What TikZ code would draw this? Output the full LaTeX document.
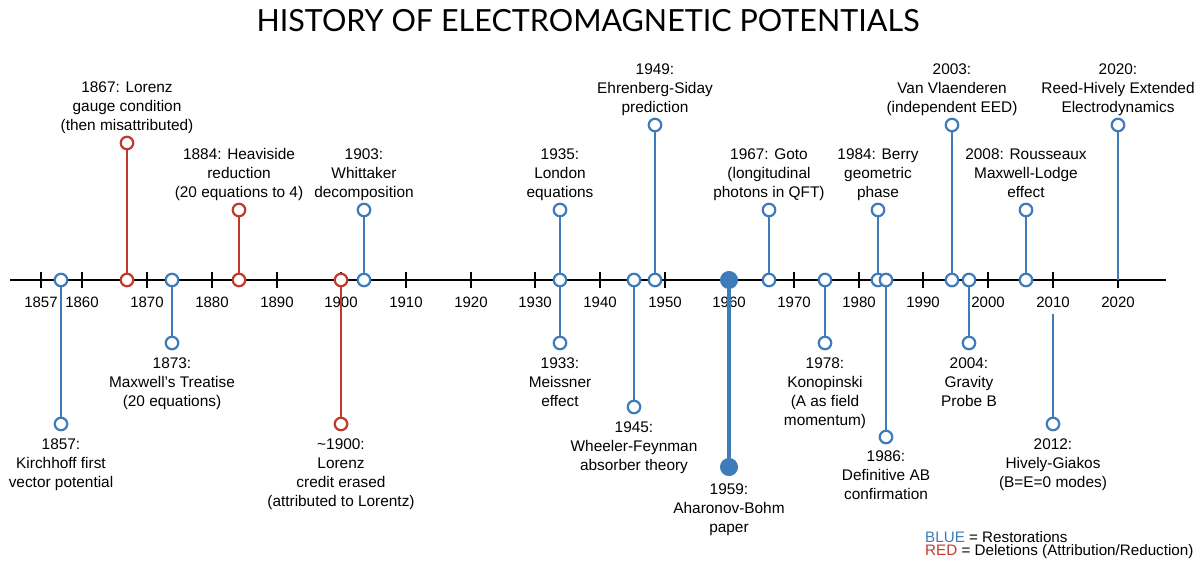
\documentclass[tikz,border=0pt]{standalone}
\usepackage{fontspec}
\setmainfont{Liberation Sans}
\newfontfamily\titlefont{Lato}
\definecolor{evblue}{RGB}{61,123,186}
\definecolor{evred}{RGB}{192,57,43}
\begin{document}
\begin{tikzpicture}[x=1pt,y=-1pt,
  axisline/.style={line width=2pt,black},
  tickmark/.style={line width=1.6pt,black},
  ticklab/.style={font=\fontsize{15}{18}\selectfont,anchor=north,inner sep=0pt},
  bl/.style={evblue,line width=2.3pt},
  rd/.style={evred,line width=2.3pt},
  blthick/.style={evblue,line width=4pt},
  ocb/.style={circle,draw=evblue,fill=white,line width=2.2pt,minimum size=12.5pt,inner sep=0pt},
  ocr/.style={circle,draw=evred,fill=white,line width=2.2pt,minimum size=12.5pt,inner sep=0pt},
  fcb/.style={circle,draw=evblue,fill=evblue,line width=1pt,minimum size=17pt,inner sep=0pt},
  lab/.style={font=\fontsize{15.4}{19}\selectfont,align=center,inner sep=0pt},
  labup/.style={lab,anchor=south,execute at end node={\vphantom{(}}},
  labdn/.style={lab,anchor=north},
  legend/.style={font=\fontsize{15.2}{15}\selectfont,anchor=west,inner sep=0pt}
]
\useasboundingbox (0,0) rectangle (1203,570);
% title
\node[font=\titlefont\fontsize{30.5}{36}\selectfont,inner sep=0pt] (title) at (588,21) {HISTORY OF ELECTROMAGNETIC POTENTIALS};
% axis
\coordinate (axL) at (10,280);
\coordinate (axR) at (1166,280);
\draw[axisline] (axL) -- (axR);
\foreach \x/\y in {41/1857,82/1860,147/1870,212/1880,277/1890,341/1900,406/1910,471/1920,535/1930,600/1940,665/1950,729/1960,794/1970,859/1980,923/1990,988/2000,1053/2010,1118/2020}{
  \draw[tickmark] (\x,272) -- (\x,288);
  \node[ticklab] (y\y) at (\x,296.5) {\y};
}
% axis circles
\node[ocb] (a1857) at (61,280) {};
\node[ocr] (a1867) at (127,280) {};
\node[ocb] (a1873) at (172,280) {};
\node[ocr] (a1884) at (239,280) {};
\node[ocr] (a1900) at (341,280) {};
\node[ocb] (a1903) at (364,280) {};
\node[ocb] (a1933) at (560,280) {};
\node[ocb] (a1945) at (634,280) {};
\node[ocb] (a1949) at (655,280) {};
\node[fcb] (a1959) at (729,280) {};
\node[ocb] (a1967) at (769,280) {};
\node[ocb] (a1978) at (825,280) {};
\node[ocb] (a1984) at (878,280) {};
\node[ocb] (a1986) at (886,280) {};
\node[ocb] (a2003) at (952,280) {};
\node[ocb] (a2004) at (969,280) {};
\node[ocb] (a2008) at (1026,280) {};
\coordinate (a2020) at (1118,280);
\coordinate (a2012) at (1053,314);
% end circles
\node[ocb] (e1857) at (61,424) {};
\node[ocr] (e1867) at (127,143) {};
\node[ocb] (e1873) at (172,343) {};
\node[ocr] (e1884) at (239,210) {};
\node[ocr] (e1900) at (341,424) {};
\node[ocb] (e1903) at (364,210) {};
\node[ocb] (e1933) at (560,343) {};
\node[ocb] (e1935) at (560,210) {};
\node[ocb] (e1945) at (634,407) {};
\node[ocb] (e1949) at (655,125) {};
\node[fcb] (e1959) at (729,467) {};
\node[ocb] (e1967) at (769,210) {};
\node[ocb] (e1978) at (825,343) {};
\node[ocb] (e1984) at (878,210) {};
\node[ocb] (e1986) at (886,437) {};
\node[ocb] (e2003) at (952,125) {};
\node[ocb] (e2004) at (969,343) {};
\node[ocb] (e2008) at (1026,210) {};
\node[ocb] (e2012) at (1053,424) {};
\node[ocb] (e2020) at (1118,125) {};
% connectors
\draw[bl] (a1857) -- (e1857);
\draw[rd] (a1867) -- (e1867);
\draw[bl] (a1873) -- (e1873);
\draw[rd] (a1884) -- (e1884);
\draw[rd] (a1900) -- (e1900);
\draw[bl] (a1903) -- (e1903);
\draw[bl] (a1933) -- (e1933);
\draw[bl] (a1933) -- (e1935);
\draw[bl] (a1945) -- (e1945);
\draw[bl] (a1949) -- (e1949);
\draw[blthick] (a1959) -- (e1959);
\draw[bl] (a1967) -- (e1967);
\draw[bl] (a1978) -- (e1978);
\draw[bl] (a1984) -- (e1984);
\draw[bl] (a1986) -- (e1986);
\draw[bl] (a2003) -- (e2003);
\draw[bl] (a2004) -- (e2004);
\draw[bl] (a2008) -- (e2008);
\draw[bl] (a2012) -- (e2012);
\draw[bl] (a2020) -- (e2020);
% labels above
\node[labup] (t1867) at (127,133.5) {1867: Lorenz\\gauge condition\\(then misattributed)};
\node[labup] (t1884) at (239,200.5) {1884: Heaviside\\reduction\\(20 equations to 4)};
\node[labup] (t1903) at (364,200.5) {1903:\\Whittaker\\decomposition};
\node[labup] (t1935) at (560,200.5) {1935:\\London\\equations};
\node[labup] (t1949) at (655,115.5) {1949:\\Ehrenberg-Siday\\prediction};
\node[labup] (t1967) at (769,200.5) {1967: Goto\\(longitudinal\\photons in QFT)};
\node[labup] (t1984) at (878,200.5) {1984: Berry\\geometric\\phase};
\node[labup] (t2003) at (952,115.5) {2003:\\Van Vlaenderen\\(independent EED)};
\node[labup] (t2008) at (1026,200.5) {2008: Rousseaux\\Maxwell-Lodge\\effect};
\node[labup] (t2020) at (1118,115.5) {2020:\\Reed-Hively Extended\\Electrodynamics};
% labels below
\node[labdn] (t1857) at (61,438.5) {1857:\\Kirchhoff first\\vector potential};
\node[labdn] (t1873) at (172,357.5) {1873:\\Maxwell's Treatise\\(20 equations)};
\node[labdn] (t1900) at (341,438.5) {\textasciitilde1900:\\Lorenz\\credit erased\\(attributed to Lorentz)};
\node[labdn] (t1933) at (560,357.5) {1933:\\Meissner\\effect};
\node[labdn] (t1945) at (634,422) {1945:\\Wheeler-Feynman\\absorber theory};
\node[labdn] (t1959) at (729,483.5) {1959:\\Aharonov-Bohm\\paper};
\node[labdn] (t1978) at (825,357.5) {1978:\\Konopinski\\(A as field\\momentum)};
\node[labdn] (t1986) at (886,451) {1986:\\Definitive AB\\confirmation};
\node[labdn] (t2004) at (969,357.5) {2004:\\Gravity\\Probe B};
\node[labdn] (t2012) at (1053,438.5) {2012:\\Hively-Giakos\\(B=E=0 modes)};
% legend
\node[legend] (lgb) at (925,537) {\textcolor{evblue}{BLUE} = Restorations};
\node[legend] (lgr) at (925,552) {\textcolor{evred}{RED} = Deletions (Attribution/Reduction)};
\end{tikzpicture}
\end{document}
